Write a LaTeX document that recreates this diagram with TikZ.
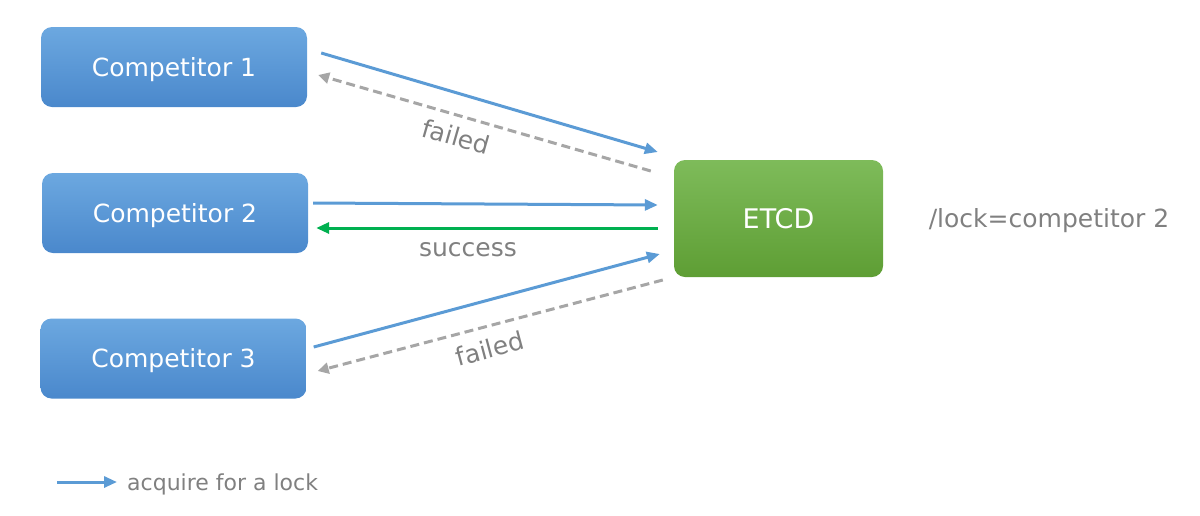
\documentclass[tikz,border=0pt]{standalone}
\usepackage{fontspec}
\setmainfont{DejaVu Sans}
\usetikzlibrary{arrows.meta}

\definecolor{bleuH}{HTML}{6CA8E0}
\definecolor{bleuB}{HTML}{4A88CC}
\definecolor{vertH}{HTML}{7EBB5A}
\definecolor{vertB}{HTML}{5E9E34}
\definecolor{fleche}{HTML}{5B9BD5}
\definecolor{succes}{HTML}{00B050}
\definecolor{gris}{HTML}{A6A6A6}
\definecolor{texte}{HTML}{808080}

\begin{document}
\begin{tikzpicture}[x=1pt, y=-1pt,
  boite/.style={rounded corners=11pt, minimum width=266pt, minimum height=80pt,
    top color=bleuH, bottom color=bleuB, text=white, text height=18pt, text depth=0pt,
    font=\fontsize{25}{30}\selectfont},
  serveur/.style={boite, minimum width=209pt, minimum height=117pt,
    top color=vertH, bottom color=vertB, text height=20pt, font=\fontsize{27}{32}\selectfont},
  etiq/.style={text=texte, text height=18pt, text depth=0pt, font=\fontsize{25}{30}\selectfont},
  acq/.style={draw=fleche, line width=3pt, -{Triangle[length=13pt,width=11pt]}},
  ok/.style={draw=succes, line width=3pt, -{Triangle[length=13pt,width=11pt]}},
  echec/.style={draw=gris, line width=3pt, dash pattern=on 9pt off 5pt,
    -{Triangle[length=11pt,width=11pt]}}]
\useasboundingbox (0,0) rectangle (1200,515);

% Concurrents
\node[boite] (C1) at (174,67) {Competitor 1};
\node[boite] (C2) at (175,213) {Competitor 2};
\node[boite] (C3) at (173.5,358.5) {Competitor 3};

% Serveur
\node[serveur] (E) at (778.5,218.5) {ETCD};
\node[etiq] (L) at (1049,218) {/lock=competitor 2};

% Demandes de verrou
\draw[acq] ([shift={(14,-14)}]C1.east) -- ([shift={(-16,-66.5)}]E.west);
\draw[acq] ([shift={(5,-10)}]C2.east) -- ([shift={(-16,-13.5)}]E.west);
\draw[acq] ([shift={(7,-11.5)}]C3.east) -- ([shift={(-14,35.5)}]E.west);

% Réponses
\draw[echec] ([shift={(-23,-47.5)}]E.west) -- ([shift={(11,8)}]C1.east);
\draw[ok] ([shift={(-16,9.5)}]E.west) -- ([shift={(8,15)}]C2.east);
\draw[echec] ([shift={(-11,61.5)}]E.west) -- ([shift={(11,12.5)}]C3.east);

\node[etiq, rotate=-16] (F1) at (456,137) {failed};
\node[etiq] (S) at (468,247) {success};
\node[etiq, rotate=15] (F3) at (490,349) {failed};

% Légende
\coordinate (G) at (57,482);
\node[etiq, anchor=west, inner sep=0pt, text height=16pt, font=\fontsize{22}{26}\selectfont] (T) at (127,482) {acquire for a lock};
\draw[acq] (G) -- ([xshift=-10pt]T.west);

\end{tikzpicture}
\end{document}
